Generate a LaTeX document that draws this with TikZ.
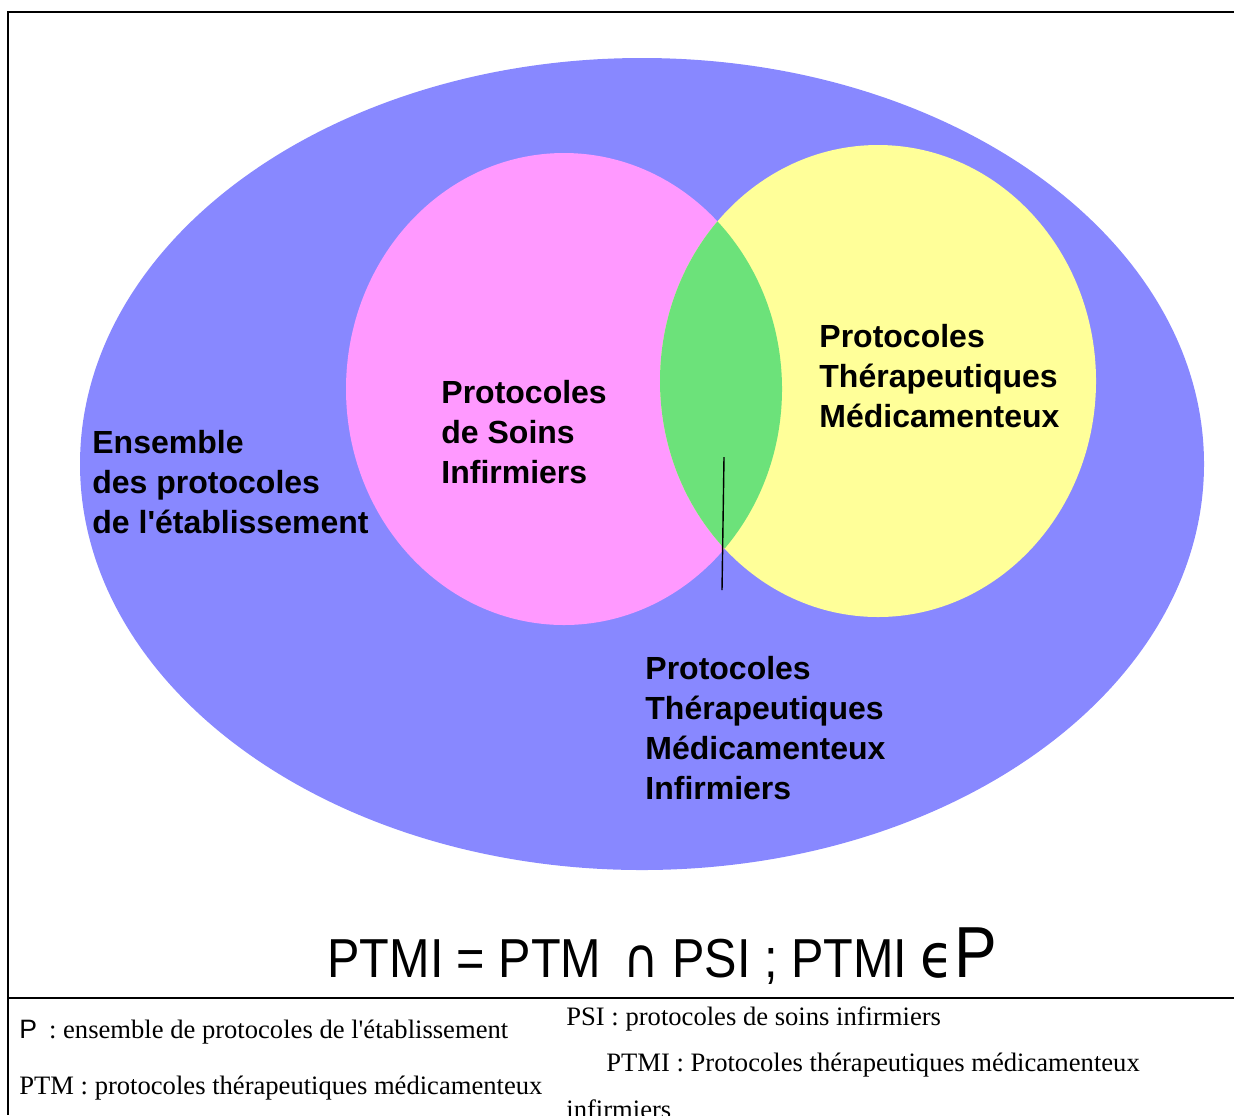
\documentclass[tikz,border=0pt]{standalone}
\usepackage{fontspec}
\setmainfont{Liberation Serif}
\newfontfamily\arial{Liberation Sans}
\newfontfamily\dejavu{DejaVu Sans}
\usepackage{xcolor}
\definecolor{lavender}{RGB}{136,136,255}
\definecolor{orchid}{RGB}{255,153,255}
\definecolor{canary}{RGB}{255,255,153}
\definecolor{mint}{RGB}{108,226,122}
\usepackage{tikz}

\begin{document}
\begin{tikzpicture}[x=0.5pt, y=-0.5pt,
        setlabel/.style={anchor=base west, inner sep=0, align=left,
            font=\arial\bfseries\fontsize{16}{20}\selectfont},
        legend/.style={anchor=base west, inner sep=0,
            font=\fontsize{13.3}{16}\selectfont}]
    \useasboundingbox (0,0) rectangle (1234,1115);
    \fill[lavender] (642,464) ellipse [x radius=562, y radius=406];
    \fill[orchid] (564,389) ellipse [x radius=218, y radius=236];
    \fill[canary] (878,381) ellipse [x radius=218, y radius=236];
    \begin{scope}
        \clip (564,389) ellipse [x radius=218, y radius=236];
        \fill[mint] (878,381) ellipse [x radius=218, y radius=236];
    \end{scope}
    \draw[line width=0.65pt] (1234,12) -- (8,12) -- (8,1115);
    \draw[line width=0.65pt] (8,998) -- (1234,998);

    % anchors sit on the last line of each label
    \node[setlabel] (etab) at (92,533) {Ensemble\\des protocoles\\de l\textquotesingle établissement};
    \node[setlabel] (psi) at (441,483) {Protocoles\\de Soins\\Infirmiers};
    \node[setlabel] (ptm) at (819,427) {Protocoles\\Thérapeutiques\\Médicamenteux};
    \node[setlabel] (ptmi) at (645,799) {Protocoles\\Thérapeutiques\\Médicamenteux\\Infirmiers};
    \coordinate (lenstop) at (724,457);
    \coordinate (lensfoot) at (722,590);
    \draw[line width=0.7pt] (lenstop) -- (lensfoot);

    \node[anchor=base west, inner sep=0, font=\arial\fontsize{24.3}{28}\selectfont] (formula) at (327,977)
        {\scalebox{1}[1.13]{PTMI = PTM\hspace{0.45em}{\dejavu ∩} PSI ; PTMI {\dejavu\fontsize{27}{28}\selectfont ϵ}{\fontsize{32}{32}\selectfont P}}};

    \node[legend] (legp) at (19,1038) {{\arial P}\hspace{0.45em}: ensemble de protocoles de l\textquotesingle établissement};
    \node[legend] (legptm) at (19,1094) {PTM : protocoles thérapeutiques médicamenteux};
    \node[legend] (legpsi) at (566,1025) {PSI : protocoles de soins infirmiers};
    \node[legend] (legptmi) at (606,1071) {PTMI : Protocoles thérapeutiques médicamenteux};
    \node[legend] (leginf) at (566,1118) {infirmiers};
\end{tikzpicture}
\end{document}
